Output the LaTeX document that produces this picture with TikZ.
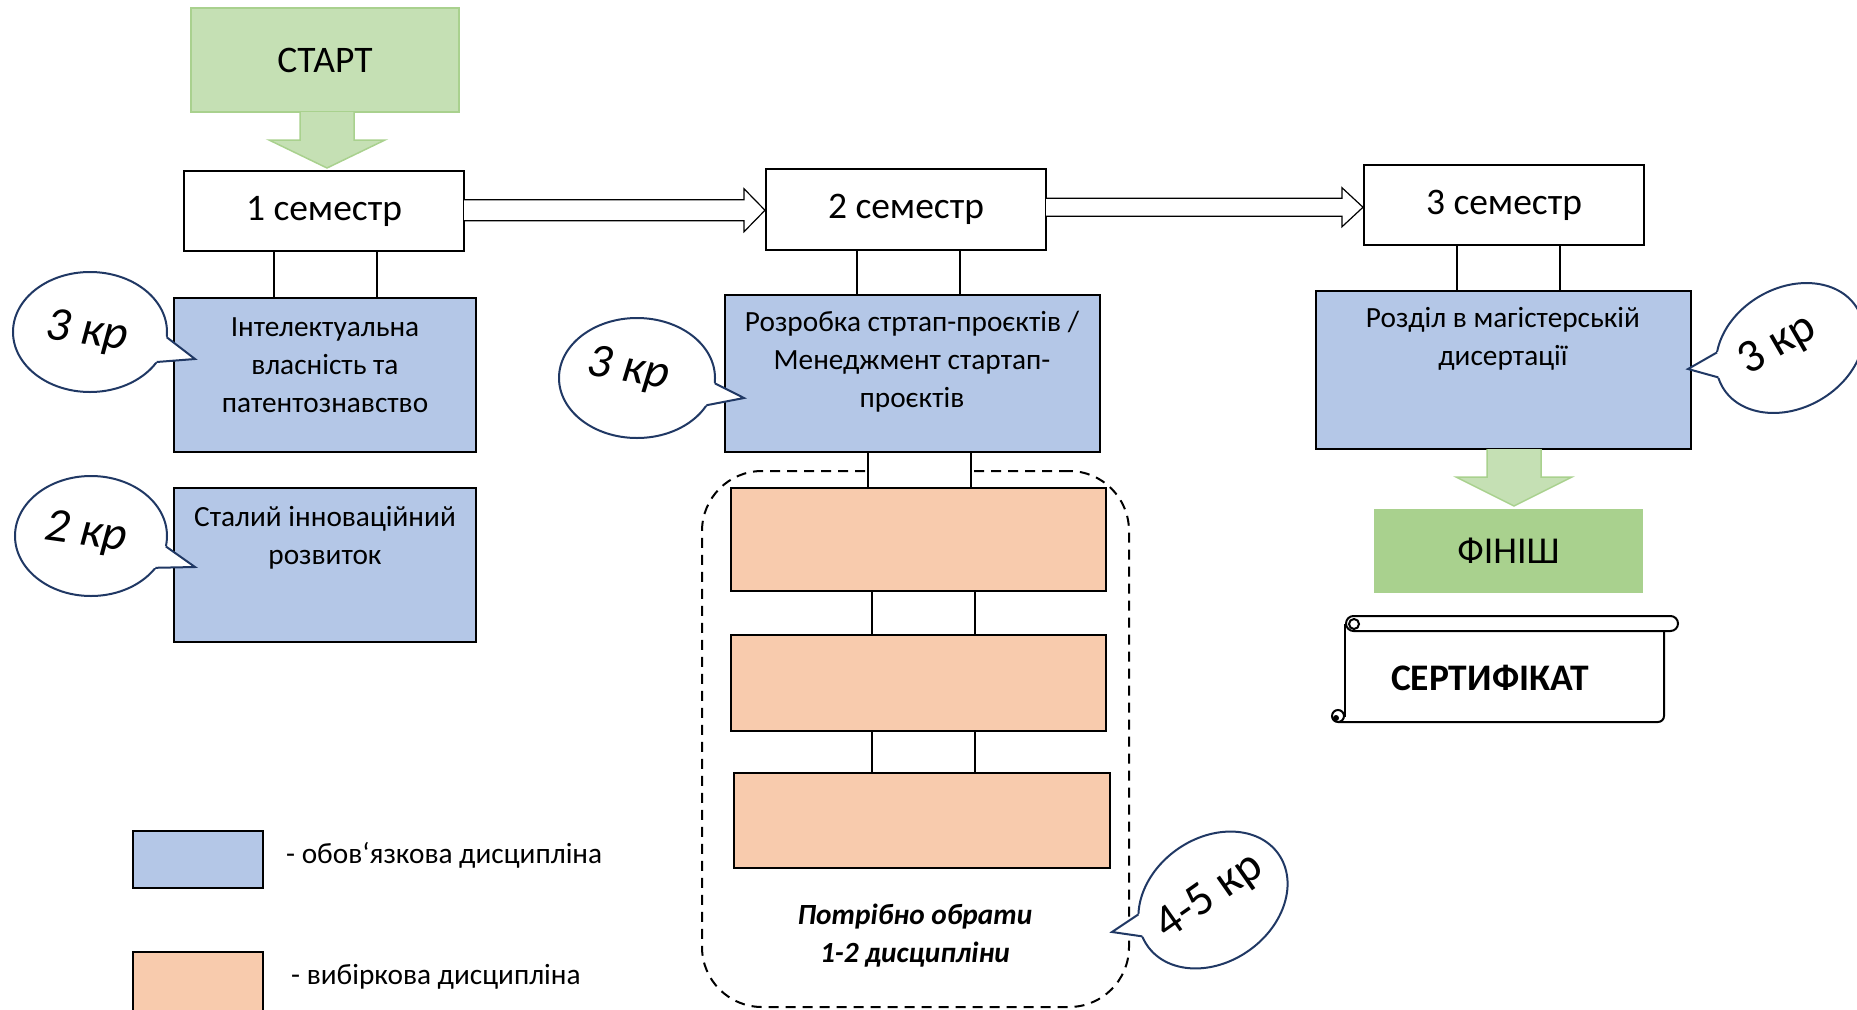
\documentclass[tikz,border=0pt]{standalone}
\usepackage{fontspec}
\setmainfont{Carlito}
\usetikzlibrary{calc}
\definecolor{blueF}{HTML}{B4C7E7}
\definecolor{orangeF}{HTML}{F8CBAD}
\definecolor{greenL}{HTML}{C5E0B4}
\definecolor{greenD}{HTML}{A9D18E}
\definecolor{navy}{HTML}{203864}

% callout bubble: cx, cy, rx, ry, rotation, t1, t2, tip
\newcommand\kcallout[8]{%
  \begin{scope}[shift={(#1,#2)}, rotate=#5, x=1pt, y=1pt]
    \draw[bubble] (0,0) ellipse [x radius=#3pt, y radius=#4pt];
    \coordinate (cbA) at ({#3*cos(#6)},{#4*sin(#6)});
    \coordinate (cbB) at ({#3*cos(#7)},{#4*sin(#7)});
  \end{scope}
  \fill[white] ($(#8)!1.3!(cbA)$) -- (#8) -- ($(#8)!1.3!(cbB)$) -- cycle;
  \draw[bubbleedge] (cbA) -- (#8) -- (cbB);
}
% hollow right arrow between two nodes: from, to, shaft half, head half
\newcommand\harrow[4]{%
  \draw[hollow] let \p1=(#1.east), \p2=(#2.west), \n1={0.5*(\y1+\y2)} in
    (\x1,{\n1+#3pt}) -- ({\x2-22pt},{\n1+#3pt}) -- ({\x2-22pt},{\n1+#4pt})
    -- ({\x2-1pt},{\n1}) -- ({\x2-22pt},{\n1-#4pt}) -- ({\x2-22pt},{\n1-#3pt})
    -- (\x1,{\n1-#3pt});
}
% green down arrow: from, to, x centre
\newcommand\garrow[3]{%
  \draw[greenarrow] let \p1=(#1.south), \p2=(#2.north) in
    ({#3pt-27pt},\y1) -- ({#3pt-27pt},{\y1-28pt}) -- ({#3pt-58pt},{\y1-28pt})
    -- (#3pt,{\y2+3pt}) -- ({#3pt+58pt},{\y1-28pt}) -- ({#3pt+27pt},{\y1-28pt})
    -- ({#3pt+27pt},\y1);
}
% white link between two boxes
\newcommand\klink[4]{%
  \draw[link] ([xshift=#3pt]#1.south) rectangle ([xshift=#4pt]#2.north);
}

\begin{document}
\begin{tikzpicture}[x=1pt,y=-1pt,
  semester/.style={draw=black, line width=1.3pt, fill=white, minimum width=280pt,
    minimum height=80pt, inner sep=0pt, outer sep=0pt, font=\fontsize{37.5}{40}\selectfont},
  mandatory/.style={draw=black, line width=1.3pt, fill=blueF, inner sep=0pt, outer sep=0pt},
  elective/.style={draw=black, line width=1.3pt, fill=orangeF, inner sep=0pt, outer sep=0pt},
  boxtext/.style={align=center, inner sep=0pt, font=\fontsize{29.3}{38}\selectfont},
  link/.style={draw=black, line width=1.3pt, fill=white},
  hollow/.style={draw=black, line width=1.2pt, fill=white},
  greenarrow/.style={draw=greenD, line width=1.5pt, fill=greenL},
  bubble/.style={draw=navy, line width=2pt, fill=white},
  bubbleedge/.style={draw=navy, line width=2pt, line join=miter},
  kr/.style={inner sep=0pt, font=\fontsize{48}{50}\selectfont\itshape},
  krup/.style={inner sep=0pt, font=\fontsize{47}{49}\selectfont},
  scroll/.style={draw=black, line width=2pt}]
\useasboundingbox (0,0) rectangle (1857,1009);

% dashed group frame
\node[draw=black, line width=2pt, dash pattern=on 10pt off 7pt, rounded corners=60pt,
  minimum width=427pt, minimum height=536pt, inner sep=0pt] (grp) at (915.5,739) {};

% boxes
\node[semester, fill=greenL, draw=greenD, minimum width=268pt, minimum height=104pt] (start) at (325,60) {СТАРТ};
\node[semester] (s1) at (324,211) {1 семестр};
\node[semester, minimum height=81pt] (s2) at (906,209.5) {2 семестр};
\node[semester] (s3) at (1504,205) {3 семестр};

\node[mandatory, minimum width=302pt, minimum height=154pt] (b1) at (325,375) {};
\node[boxtext] (b1t) at (325,365) {Інтелектуальна\\власність та\\патентознавство};
\node[mandatory, minimum width=302pt, minimum height=154pt] (b4) at (325,565) {};
\node[boxtext] (b4t) at (325,538) {Сталий інноваційний\\розвиток};
\node[mandatory, minimum width=375pt, minimum height=157pt] (b2) at (912.5,373.5) {};
\node[boxtext] (b2t) at (912,362) {Розробка стртап-проєктів /\\Менеджмент стартап-\\проєктів};
\node[mandatory, minimum width=375pt, minimum height=158pt] (b3) at (1503.5,370) {};
\node[boxtext] (b3t) at (1503,339) {Розділ в магістерській\\дисертації};

\node[elective, minimum width=375pt, minimum height=103pt] (o1) at (918.5,539.5) {};
\node[elective, minimum width=375pt, minimum height=96pt] (o2) at (918.5,683) {};
\node[elective, minimum width=376pt, minimum height=95pt] (o3) at (922,820.5) {};

\node[fill=greenD, minimum width=269pt, minimum height=84pt, inner sep=0pt, outer sep=0pt,
  font=\fontsize{38}{40}\selectfont] (fin) at (1508.5,551) {ФІНІШ};

% links
\klink{s1}{b1}{-50}{52}
\klink{s2}{b2}{-49}{47.5}
\klink{s3}{b3}{-47}{56.5}
\klink{b2}{o1}{-44.5}{52.5}
\klink{o1}{o2}{-46.5}{56.5}
\klink{o2}{o3}{-46.5}{53}

% arrows
\harrow{s1}{s2}{10.5}{21.5}
\harrow{s2}{s3}{9}{19.5}
\garrow{start}{s1}{327}
\garrow{b3}{fin}{1514}

% group caption
\node[boxtext, font=\fontsize{29.3}{38}\selectfont\bfseries\itshape] (grpt) at (915,936) {Потрібно обрати\\1-2 дисципліни};

% certificate scroll
\draw[scroll, rounded corners=7.5pt] (1346,616) rectangle (1678,631);
\draw[scroll] (1354,624) circle[radius=5pt];
\draw[scroll] (1345,624) -- (1345,717);
\draw[scroll, rounded corners=6pt] (1664,631) -- (1664,722) -- (1338,722);
\draw[scroll, fill=white] (1338,716) circle[radius=6pt];
\fill[black] (1336,718) circle[radius=3pt];
\node[inner sep=0pt, font=\fontsize{37.5}{40}\selectfont\bfseries] (cert) at (1490,678) {СЕРТИФІКАТ};

% legend
\node[mandatory, minimum width=130pt, minimum height=57pt] (lg1) at (198,859.5) {};
\node[elective, minimum width=130pt, minimum height=80pt] (lg2) at (198,992) {};
\node[anchor=west, inner sep=0pt, font=\fontsize{29.3}{32}\selectfont] (lg1t) at (286,855) {- обов\symbol{96}язкова дисципліна};
\node[anchor=west, inner sep=0pt, font=\fontsize{29.3}{32}\selectfont] (lg2t) at (291,977) {- вибіркова дисципліна};

% callouts
\coordinate (tip1) at (195,359);
\kcallout{90}{332}{77}{60}{0}{-5}{-30}{tip1}
\node[kr, rotate=-8] (k1) at (87,333) {3 кр};
\coordinate (tip2) at (195,567);
\kcallout{91}{536}{76}{60}{0}{-10}{-32}{tip2}
\node[kr, rotate=-8] (k2) at (86,534) {2 кр};
\coordinate (tip3) at (744,398);
\kcallout{637}{378}{78}{60}{0}{-5}{-27}{tip3}
\node[kr, rotate=-10] (k3) at (628,370) {3 кр};
\coordinate (tip4) at (1112,932);
\kcallout{1213}{900}{80}{62}{35}{150}{170}{tip4}
\node[krup, rotate=35] (k4) at (1210,897) {4-5 кр};
\coordinate (tip5) at (1688,369);
\kcallout{1790}{348}{78}{60}{30}{147}{170}{tip5}
\node[krup, rotate=30] (k5) at (1778,345) {3 кр};
\end{tikzpicture}
\end{document}
